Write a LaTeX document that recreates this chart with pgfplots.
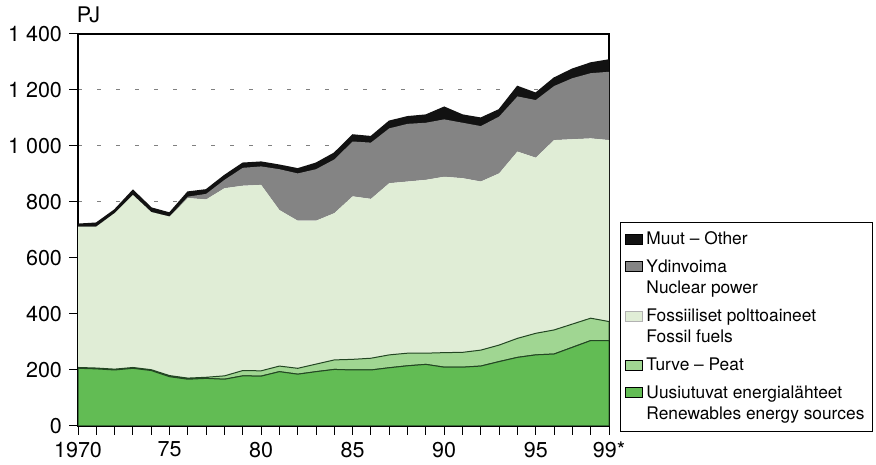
\documentclass[border=0pt]{standalone}
\usepackage{fontspec}
\setmainfont{TeX Gyre Heros}
\usepackage{pgfplots}
\usepackage{pgfplotstable}
\pgfplotsset{compat=1.18}

\definecolor{renew}{RGB}{98,188,84}
\definecolor{peat}{RGB}{160,214,146}
\definecolor{fossil}{RGB}{224,237,214}
\definecolor{nuclear}{RGB}{132,132,132}
\definecolor{other}{RGB}{18,18,18}
\definecolor{edge}{RGB}{35,70,35}

% PJ per year: renewables, peat, fossil, nuclear, other
\pgfplotstableread{
year R   P  F   N   O
1970 206 3  503 0   8
1971 204 3  505 0   12
1972 200 3  557 0   11
1973 206 3  616 0   16
1974 198 3  563 0   14
1975 176 4  568 0   12
1976 167 4  643 5   16
1977 170 4  635 20  14
1978 167 12 670 30  15
1979 179 19 660 64  16
1980 178 19 664 66  15
1981 194 20 557 146 14
1982 185 21 527 169 16
1983 194 27 512 184 21
1984 202 34 524 192 22
1985 200 38 582 196 23
1986 200 42 569 201 21
1987 208 46 613 196 25
1988 215 45 613 206 25
1989 220 40 619 204 27
1990 210 52 628 205 43
1991 210 53 622 198 27
1992 214 57 602 198 28
1993 230 59 613 203 24
1994 245 68 667 197 35
1995 254 77 627 206 24
1996 257 86 678 193 28
1997 281 83 660 218 32
1998 305 80 642 233 36
1999 305 68 648 244 42
}\energy

\pgfplotsset{
  layers/gridbelow/.define layer set={axis background,axis grid,main,axis ticks,axis lines,axis tick labels,axis descriptions,axis foreground}{},
  legpatch/.style={legend image code/.code={\fill[##1] (0bp,-2.2bp) rectangle (8.5bp,2.8bp);}},
  legpatchtwo/.style={legend image code/.code={\fill[##1] (0bp,3.2bp) rectangle (8.5bp,8.2bp);}},
}

\begin{document}
\begin{tikzpicture}
\begin{axis}[
  set layers=gridbelow,
  width=265.5bp, height=196bp, scale only axis,
  xmin=1970, xmax=1999, ymin=0, ymax=1400,
  stack plots=y,
  axis line style={line width=0.6bp},
  tick align=outside, tick pos=left,
  major tick length=4.5bp, minor tick length=4.5bp,
  tick style={black, line width=0.5bp},
  xtick={1970,1975,1980,1985,1990,1995,1999},
  xticklabels={1970,75,80,85,90,95,99*},
  minor xtick={1971,...,1998},
  ytick={0,200,...,1400},
  yticklabels={0,200,400,600,800,1 000,1 200,1 400},
  ymajorgrids,
  grid style={gray, line width=0.5bp, dash pattern=on 2bp off 7.5bp},
  ticklabel style={font=\fontsize{10.8}{13}\selectfont},
  legend style={at={(1.0207,-0.0153)}, anchor=south west, draw=black,
    line width=0.5bp, font=\fontsize{8.7}{10.75}\selectfont,
    inner xsep=2bp, inner ysep=2.5bp, row sep=2bp,
    cells={anchor=west, align=left, inner ysep=1.5bp}},
  legend cell align=left,
]
\addlegendimage{legpatch, fill=other}
\addlegendentry{Muut \textendash{} Other}
\addlegendimage{legpatchtwo, fill=nuclear}
\addlegendentry{Ydinvoima\\Nuclear power}
\addlegendimage{legpatchtwo, fill=fossil, draw=gray!60, line width=0.3bp}
\addlegendentry{Fossiiliset polttoaineet\\Fossil fuels}
\addlegendimage{legpatch, fill=peat}
\addlegendentry{Turve \textendash{} Peat}
\addlegendimage{legpatchtwo, fill=renew}
\addlegendentry{Uusiutuvat energialähteet\\Renewables energy sources}

\addplot[forget plot, fill=renew, draw=edge, line width=0.5bp] table[x=year, y=R] {\energy} \closedcycle;
\addplot[forget plot, fill=peat, draw=edge, line width=0.5bp] table[x=year, y=P] {\energy} \closedcycle;
\addplot[forget plot, fill=fossil, draw=none] table[x=year, y=F] {\energy} \closedcycle;
\addplot[forget plot, fill=nuclear, draw=none] table[x=year, y=N] {\energy} \closedcycle;
\addplot[forget plot, fill=other, draw=other, line width=0.8bp] table[x=year, y=O] {\energy} \closedcycle;

\coordinate (pj) at (rel axis cs:-0.003,1.03);
\coordinate (bl) at (rel axis cs:-0.1469,-0.0893);
\coordinate (tr) at (rel axis cs:1.5028,1.0867);
\end{axis}
\node[anchor=base west, font=\fontsize{10.8}{13}\selectfont, inner sep=0pt] at (pj) {PJ};
\path (bl) rectangle (tr);
\end{tikzpicture}
\end{document}
